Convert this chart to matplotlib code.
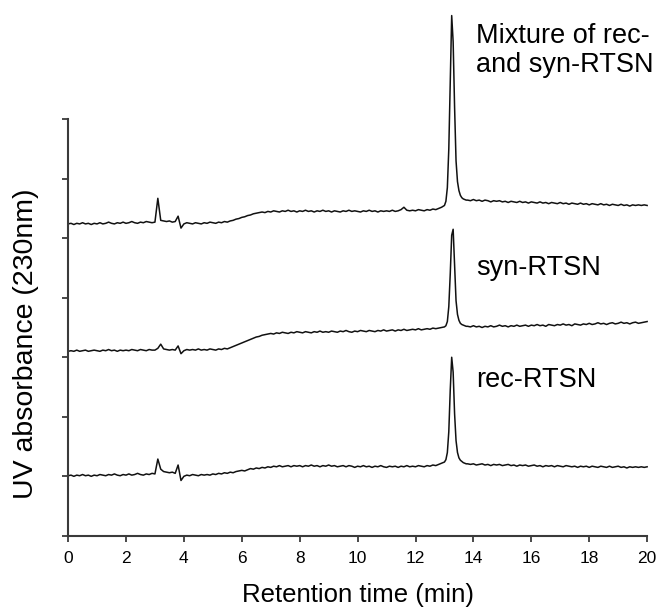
import numpy as np
import matplotlib
matplotlib.use("Agg")
import matplotlib.pyplot as plt

plt.rcParams['font.family'] = ['Liberation Sans', 'DejaVu Sans']

# sampling times (min): 0.1 min steps, 0.05 min around the main peak
t = np.concatenate([np.arange(130) * 0.1,
                    13.0 + np.arange(16) * 0.05,
                    13.8 + np.arange(63) * 0.1])

rec = [1.01,1.02,1.00,1.02,1.01,1.03,1.01,1.02,1.00,1.02,
       1.01,1.03,1.02,1.01,1.03,1.02,1.04,1.02,1.01,1.03,
       1.02,1.04,1.02,1.03,1.05,1.03,1.02,1.04,1.03,1.05,
       1.04,1.29,1.12,1.08,1.07,1.06,1.07,1.05,1.19,0.93,
       1.00,1.02,1.01,1.03,1.02,1.01,1.03,1.02,1.03,1.02,
       1.04,1.03,1.05,1.04,1.06,1.05,1.07,1.06,1.08,1.09,
       1.10,1.09,1.11,1.13,1.12,1.14,1.13,1.15,1.14,1.16,
       1.15,1.17,1.16,1.18,1.16,1.17,1.18,1.16,1.18,1.17,
       1.18,1.16,1.18,1.17,1.19,1.17,1.18,1.16,1.18,1.17,
       1.19,1.17,1.18,1.16,1.17,1.18,1.16,1.18,1.17,1.15,
       1.17,1.16,1.18,1.16,1.17,1.15,1.17,1.16,1.18,1.16,
       1.15,1.17,1.16,1.17,1.15,1.17,1.16,1.18,1.16,1.17,
       1.16,1.18,1.17,1.16,1.18,1.17,1.19,1.18,1.20,1.22,
       1.24,1.28,1.40,1.75,2.45,3.00,2.75,2.05,1.60,1.40,1.31,1.27,1.25,1.23,1.22,1.21,
       1.21,1.20,1.21,1.19,1.20,1.21,1.19,1.20,1.18,1.20,
       1.19,1.20,1.18,1.19,1.20,1.18,1.19,1.17,1.19,1.18,
       1.19,1.17,1.18,1.19,1.17,1.18,1.16,1.18,1.17,1.18,
       1.16,1.18,1.17,1.16,1.18,1.17,1.16,1.17,1.15,1.17,
       1.16,1.17,1.15,1.17,1.16,1.15,1.17,1.16,1.15,1.17,
       1.15,1.16,1.17,1.15,1.16,1.14,1.16,1.15,1.16,1.15,
       1.16,1.15,1.16]

syn = [3.10,3.11,3.10,3.12,3.10,3.11,3.12,3.10,3.11,3.12,
       3.11,3.10,3.12,3.11,3.13,3.11,3.12,3.10,3.12,3.11,
       3.12,3.11,3.13,3.12,3.11,3.13,3.12,3.11,3.13,3.12,
       3.12,3.15,3.22,3.14,3.13,3.12,3.13,3.12,3.19,3.06,
       3.11,3.13,3.12,3.13,3.12,3.14,3.12,3.13,3.12,3.14,
       3.13,3.12,3.14,3.13,3.15,3.14,3.16,3.18,3.20,3.22,
       3.24,3.26,3.28,3.30,3.32,3.34,3.35,3.37,3.38,3.39,
       3.40,3.39,3.41,3.40,3.42,3.41,3.40,3.42,3.41,3.43,
       3.42,3.41,3.43,3.42,3.41,3.43,3.42,3.44,3.42,3.43,
       3.42,3.44,3.43,3.42,3.44,3.43,3.45,3.43,3.42,3.44,
       3.43,3.45,3.44,3.43,3.45,3.44,3.43,3.45,3.44,3.46,
       3.44,3.45,3.46,3.44,3.46,3.45,3.47,3.45,3.46,3.47,
       3.46,3.48,3.46,3.47,3.48,3.47,3.49,3.48,3.49,3.50,
       3.51,3.53,3.60,3.85,4.40,5.05,5.15,4.55,3.95,3.72,3.62,3.57,3.55,3.54,3.53,3.52,
       3.52,3.51,3.53,3.51,3.52,3.50,3.52,3.51,3.53,3.51,
       3.52,3.54,3.52,3.53,3.51,3.53,3.52,3.54,3.52,3.53,
       3.54,3.52,3.54,3.53,3.55,3.53,3.54,3.52,3.55,3.54,
       3.53,3.55,3.54,3.56,3.54,3.55,3.53,3.56,3.55,3.54,
       3.56,3.55,3.57,3.55,3.56,3.58,3.56,3.57,3.55,3.57,
       3.58,3.56,3.57,3.59,3.57,3.58,3.56,3.58,3.59,3.57,
       3.58,3.59,3.60]

mix = [5.24,5.25,5.23,5.25,5.24,5.26,5.24,5.25,5.23,5.25,
       5.24,5.26,5.24,5.25,5.27,5.25,5.24,5.26,5.25,5.27,
       5.25,5.26,5.28,5.26,5.25,5.27,5.26,5.28,5.27,5.26,
       5.27,5.67,5.30,5.29,5.28,5.29,5.27,5.28,5.37,5.17,
       5.24,5.26,5.25,5.24,5.26,5.25,5.24,5.26,5.25,5.27,
       5.26,5.25,5.27,5.26,5.28,5.27,5.29,5.30,5.32,5.33,
       5.35,5.36,5.38,5.39,5.41,5.42,5.43,5.44,5.43,5.45,
       5.44,5.46,5.45,5.44,5.46,5.45,5.47,5.45,5.46,5.44,
       5.46,5.45,5.47,5.45,5.46,5.44,5.46,5.45,5.47,5.45,
       5.46,5.44,5.46,5.45,5.44,5.46,5.45,5.47,5.45,5.46,
       5.45,5.44,5.46,5.45,5.47,5.45,5.46,5.44,5.46,5.45,
       5.46,5.45,5.47,5.45,5.46,5.48,5.52,5.47,5.46,5.47,
       5.46,5.48,5.47,5.46,5.48,5.47,5.49,5.48,5.50,5.52,
       5.55,5.62,5.85,6.50,7.60,8.74,8.30,7.20,6.30,5.95,5.80,5.72,5.68,5.66,5.65,5.64,
       5.64,5.63,5.65,5.63,5.64,5.62,5.64,5.63,5.61,5.63,
       5.62,5.63,5.61,5.62,5.60,5.62,5.61,5.60,5.62,5.60,
       5.61,5.59,5.61,5.60,5.59,5.61,5.59,5.60,5.58,5.60,
       5.59,5.58,5.60,5.58,5.59,5.57,5.59,5.58,5.57,5.59,
       5.57,5.58,5.56,5.58,5.57,5.56,5.58,5.56,5.57,5.55,
       5.57,5.56,5.55,5.57,5.55,5.56,5.54,5.56,5.55,5.56,
       5.55,5.56,5.55]

labels = ["Mixture of rec-\nand syn-RTSN", "syn-RTSN", "rec-RTSN"]
label_y = [8.62, 4.50, 2.62]
xticks = [0, 2, 4, 6, 8, 10, 12, 14, 16, 18, 20]

fig = plt.figure(figsize=(6.61, 6.11), dpi=100)
ax = fig.add_axes([0.103, 0.123, 0.876, 0.682])

for y in [mix, syn, rec]:
    ax.plot(t, y, color="#111111", lw=1.1, clip_on=False)

ax.text(14.1, label_y[0], labels[0], fontsize=19.5, va="top", ha="left",
        linespacing=1.15)
ax.text(14.1, label_y[1], labels[1], fontsize=19.5, va="center", ha="left")
ax.text(14.1, label_y[2], labels[2], fontsize=19.5, va="center", ha="left")

ax.set_xlim(0, 20)
ax.set_ylim(0, 7)
ax.set_xticks(xticks)
ax.set_yticks(range(8))
ax.set_yticklabels([])
for s in ["top", "right"]:
    ax.spines[s].set_visible(False)
for s in ["left", "bottom"]:
    ax.spines[s].set_color("#3a3a3a")
    ax.spines[s].set_linewidth(1.5)
ax.tick_params(colors="#3a3a3a", width=1.3, length=4, labelsize=12.5,
               labelcolor="black", pad=7)

ax.set_xlabel("Retention time (min)", fontsize=18.5, labelpad=12)
ax.set_ylabel("UV absorbance (230nm)", fontsize=20.5)
ax.yaxis.set_label_coords(-0.05, 0.46)

fig.savefig("out.png", dpi=100)
